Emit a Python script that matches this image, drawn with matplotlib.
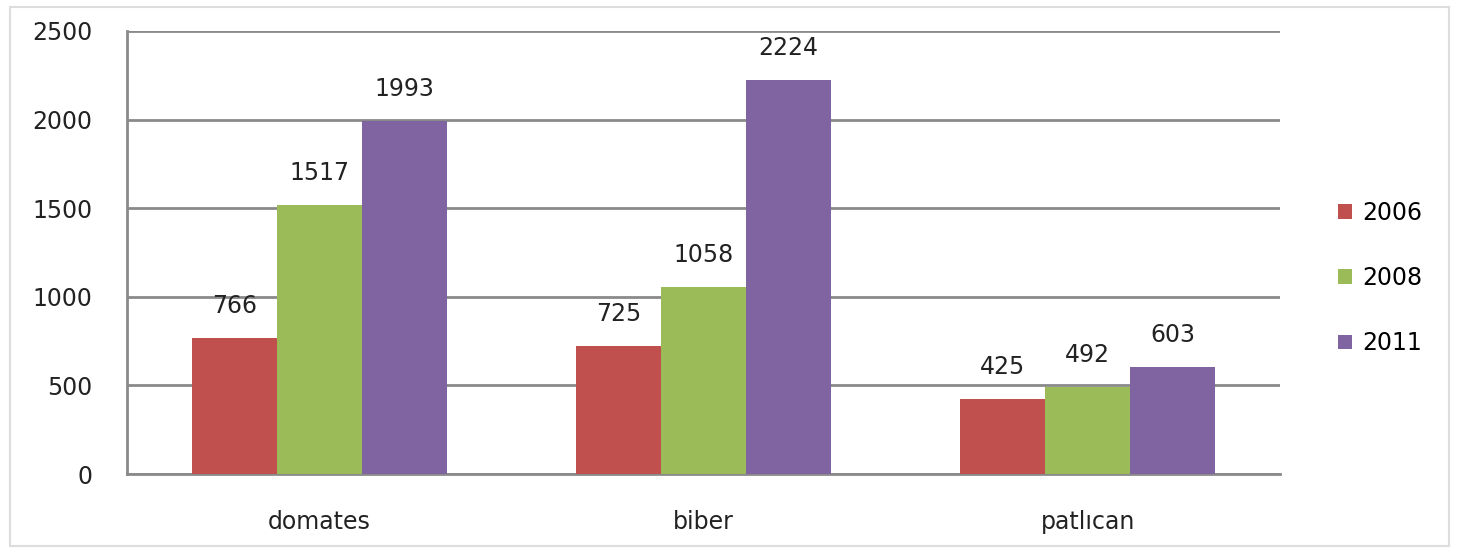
import matplotlib.pyplot as plt
import numpy as np
from matplotlib import rcParams

rcParams['font.family'] = 'DejaVu Sans'

# Vegetable production by year
categories = ["domates", "biber", "patlıcan"]
years = ["2006", "2008", "2011"]
values_2006 = [766, 725, 425]
values_2008 = [1517, 1058, 492]
values_2011 = [1993, 2224, 603]

colors = ["#C0504D", "#9BBB59", "#8064A2"]
FONT_SIZE = 17


def main():
    fig = plt.figure(figsize=(14.59, 5.51), dpi=100)
    ax = fig.add_axes([127 / 1459, 1 - 474 / 551, (1280 - 127) / 1459, (474 - 31) / 551])

    x = np.arange(len(categories))
    width = 0.221
    series = [values_2006, values_2008, values_2011]

    for i, (vals, year) in enumerate(zip(series, years)):
        bars = ax.bar(x + (i - 1) * width, vals, width, color=colors[i], label=year, zorder=3)
        for b, v in zip(bars, vals):
            ax.annotate(str(v), (b.get_x() + b.get_width() / 2, v),
                        xytext=(0, 23), textcoords="offset points",
                        ha="center", va="center", fontsize=FONT_SIZE, color="#222222")

    ax.set_xlim(-0.5, 2.5)
    ax.set_ylim(0, 2500)
    ax.set_yticks([0, 500, 1000, 1500, 2000, 2500])
    ax.yaxis.grid(True, color="#8a8a8a", linewidth=2, zorder=0)
    ax.set_axisbelow(True)

    ax.set_xticks(x)
    ax.set_xticklabels(categories)
    ax.tick_params(axis="both", length=0, labelsize=FONT_SIZE, colors="#222222")
    ax.tick_params(axis="x", pad=26)
    ax.tick_params(axis="y", pad=25)

    for side in ["top", "right"]:
        ax.spines[side].set_visible(False)
    for side in ["left", "bottom"]:
        ax.spines[side].set_color("#8a8a8a")
        ax.spines[side].set_linewidth(2)

    fig.legend(loc="center left", bbox_to_anchor=(1317 / 1459, 1 - 278 / 551),
               frameon=False, fontsize=FONT_SIZE, handlelength=0.6, handleheight=0.6,
               handletextpad=0.4, labelspacing=1.75)

    # light frame around the figure
    fig.patches.append(plt.Rectangle((10 / 1459, 5 / 551), 1 - 20 / 1459, 1 - 12 / 551,
                                     transform=fig.transFigure, fill=False,
                                     edgecolor="#dddddd", linewidth=1.5))

    fig.savefig("out.png", dpi=100)


if __name__ == "__main__":
    main()
